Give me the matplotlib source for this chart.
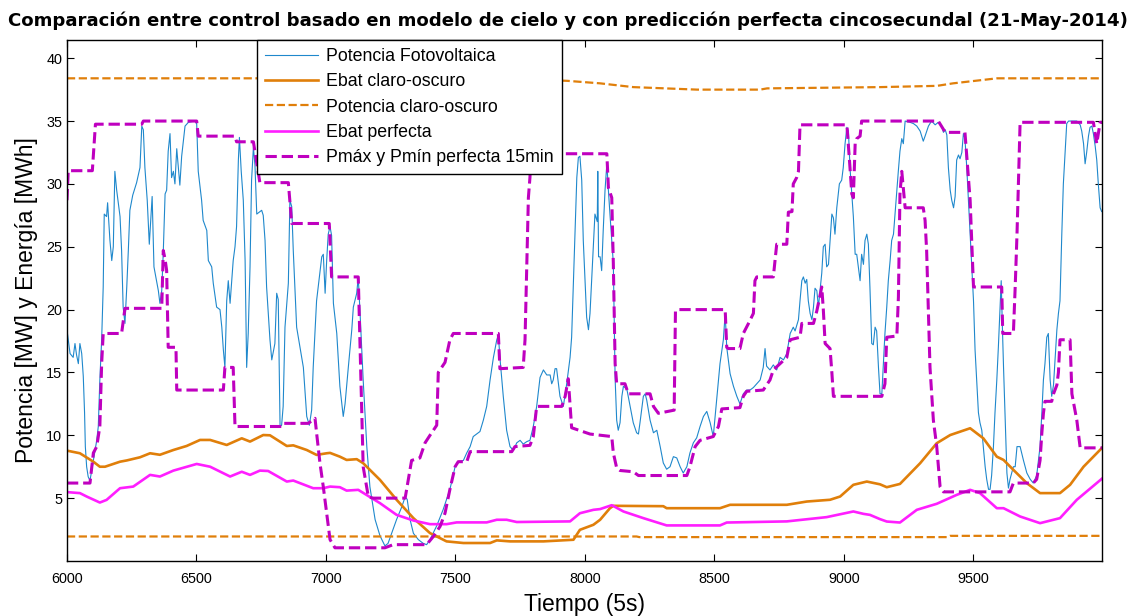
import matplotlib
matplotlib.use('Agg')
import matplotlib.pyplot as plt
import numpy as np

plt.rcParams['font.family'] = ['Liberation Sans', 'DejaVu Sans']

# potencia fotovoltaica (muestras cada 5 s)
pv_points = [
    (6000, 18.4), (6005, 17.6), (6012, 16.5), (6024, 16.2), (6031, 17.3), (6037, 16.4), (6044, 15.7),
    (6050, 17.3), (6057, 16.5), (6063, 14.7), (6068, 11.8), (6071, 9.1), (6076, 7.5), (6082, 6.7),
    (6089, 6.4), (6102, 8.0), (6115, 9.6), (6121, 10.7), (6127, 14.4), (6134, 17.6), (6140, 21.8),
    (6144, 27.6), (6153, 27.4), (6157, 28.5), (6163, 26.5), (6166, 25.5), (6173, 23.9), (6179, 25.0),
    (6185, 31.0), (6192, 29.5), (6205, 27.4), (6211, 24.7), (6217, 20.2), (6224, 18.9), (6231, 21.8),
    (6237, 24.7), (6243, 27.9), (6254, 29.1), (6269, 30.1), (6282, 31.3), (6289, 34.6), (6295, 34.3),
    (6301, 31.3), (6310, 28.7), (6318, 25.2), (6329, 29.0), (6336, 23.4), (6353, 21.5), (6359, 20.5),
    (6366, 21.5), (6372, 24.6), (6379, 29.2), (6385, 29.5), (6391, 32.6), (6398, 34.0), (6404, 30.5),
    (6411, 31.0), (6417, 30.0), (6424, 32.8), (6436, 29.9), (6443, 32.2), (6456, 34.6), (6469, 34.9),
    (6494, 35.0), (6501, 34.8), (6507, 31.0), (6520, 28.7), (6526, 27.1), (6540, 26.3), (6546, 23.9),
    (6559, 23.4), (6565, 22.1), (6578, 20.2), (6591, 20.0), (6598, 18.6), (6604, 16.8), (6610, 15.4),
    (6617, 20.7), (6623, 22.3), (6630, 20.5), (6642, 23.9), (6649, 25.0), (6655, 26.6), (6662, 31.9),
    (6666, 33.7), (6673, 31.0), (6681, 28.7), (6688, 23.9), (6694, 15.4), (6700, 18.1), (6707, 23.4),
    (6713, 30.3), (6720, 32.9), (6726, 31.5), (6733, 27.6), (6752, 27.9), (6758, 27.5), (6765, 25.5),
    (6771, 21.8), (6784, 17.6), (6791, 16.0), (6803, 17.3), (6810, 21.3), (6816, 20.8), (6823, 10.7),
    (6829, 10.8), (6835, 12.3), (6842, 18.6), (6855, 22.1), (6861, 28.7), (6868, 28.2), (6874, 24.7),
    (6887, 18.6), (6900, 17.0), (6913, 15.4), (6926, 11.5), (6936, 10.8), (6945, 12.0), (6951, 15.4),
    (6964, 20.7), (6984, 24.2), (6990, 24.4), (6997, 21.3), (7003, 23.9), (7009, 26.0), (7016, 26.6),
    (7022, 25.9), (7029, 20.5), (7042, 18.1), (7054, 13.9), (7067, 11.5), (7074, 12.5), (7087, 15.5),
    (7100, 18.4), (7106, 20.2), (7119, 21.3), (7125, 22.6), (7132, 19.7), (7144, 14.4), (7158, 9.1),
    (7170, 5.9), (7190, 3.3), (7209, 2.0), (7228, 1.2), (7240, 1.4), (7254, 2.2), (7273, 3.3),
    (7293, 4.3), (7306, 5.1), (7314, 4.9), (7325, 3.3), (7338, 2.2), (7357, 1.7), (7376, 1.4),
    (7389, 1.3), (7402, 1.7), (7428, 2.8), (7453, 4.1), (7479, 5.7), (7499, 7.5), (7511, 7.9),
    (7531, 8.0), (7544, 8.6), (7557, 9.1), (7569, 9.9), (7595, 10.3), (7608, 11.2), (7621, 12.3),
    (7634, 14.4), (7647, 16.2), (7660, 17.6), (7666, 18.0), (7672, 16.2), (7685, 13.1), (7698, 10.4),
    (7711, 9.1), (7724, 8.8), (7737, 9.4), (7750, 9.6), (7762, 9.3), (7776, 9.5), (7788, 9.6),
    (7801, 10.7), (7814, 12.3), (7827, 14.6), (7840, 15.2), (7853, 14.8), (7866, 14.8), (7872, 14.1),
    (7878, 14.4), (7885, 15.3), (7891, 15.3), (7904, 13.1), (7917, 12.3), (7930, 14.1), (7943, 16.2),
    (7949, 17.8), (7956, 22.3), (7962, 26.3), (7969, 30.5), (7975, 32.1), (7981, 32.2), (7988, 30.3),
    (7994, 25.5), (8001, 22.3), (8007, 19.4), (8014, 18.4), (8020, 19.7), (8033, 25.0), (8039, 27.6),
    (8048, 27.0), (8050, 31.0), (8053, 24.2), (8059, 24.2), (8065, 23.1), (8071, 26.3), (8078, 29.5),
    (8085, 31.6), (8091, 29.5), (8097, 27.6), (8110, 23.7), (8114, 18.4), (8117, 14.5), (8123, 11.2),
    (8129, 10.4), (8136, 11.0), (8143, 13.1), (8149, 13.9), (8162, 13.7), (8175, 12.3), (8187, 11.0),
    (8200, 10.2), (8207, 10.1), (8213, 11.0), (8226, 13.1), (8233, 13.3), (8239, 12.8), (8252, 11.2),
    (8265, 10.2), (8278, 10.4), (8291, 9.1), (8303, 7.8), (8316, 7.3), (8329, 7.5), (8342, 8.3),
    (8355, 8.2), (8368, 7.5), (8380, 7.0), (8394, 7.5), (8406, 8.6), (8419, 9.4), (8432, 9.8),
    (8445, 10.7), (8458, 11.5), (8471, 11.9), (8484, 11.0), (8496, 9.9), (8509, 12.8), (8516, 14.4),
    (8522, 15.7), (8535, 17.6), (8542, 19.7), (8548, 17.0), (8554, 16.0), (8561, 14.9), (8574, 13.9),
    (8587, 13.1), (8599, 12.5), (8612, 13.3), (8625, 13.6), (8638, 13.6), (8651, 13.8), (8664, 14.1),
    (8677, 14.4), (8689, 15.4), (8696, 16.9), (8702, 15.5), (8715, 15.2), (8728, 15.6), (8741, 15.2),
    (8754, 16.2), (8767, 16.0), (8780, 16.5), (8793, 18.1), (8805, 18.6), (8812, 18.3), (8825, 19.2),
    (8831, 20.7), (8838, 22.3), (8844, 22.6), (8851, 22.1), (8857, 22.4), (8863, 20.7), (8870, 19.7),
    (8877, 19.2), (8883, 20.2), (8889, 21.7), (8896, 21.5), (8902, 20.2), (8915, 22.9), (8921, 25.0),
    (8928, 25.2), (8934, 23.4), (8941, 23.6), (8947, 25.5), (8954, 27.6), (8960, 27.3), (8966, 26.0),
    (8973, 28.1), (8983, 30.0), (8992, 30.3), (8998, 31.3), (9005, 33.2), (9012, 34.5), (9018, 34.2),
    (9024, 31.3), (9031, 29.2), (9037, 27.4), (9044, 24.4), (9050, 24.4), (9056, 23.4), (9063, 22.3),
    (9069, 24.4), (9076, 23.6), (9082, 25.5), (9089, 26.0), (9095, 25.2), (9101, 21.8), (9108, 17.3),
    (9114, 17.2), (9121, 18.6), (9127, 18.3), (9134, 15.4), (9140, 13.3), (9147, 13.3), (9159, 18.1),
    (9166, 20.2), (9172, 22.3), (9179, 23.9), (9185, 25.5), (9192, 26.0), (9205, 29.5), (9211, 31.1),
    (9217, 32.6), (9224, 33.6), (9230, 33.2), (9237, 35.0), (9256, 34.9), (9269, 34.8), (9282, 34.6),
    (9295, 34.2), (9307, 33.4), (9314, 33.8), (9327, 34.6), (9339, 35.0), (9353, 34.7), (9365, 34.9),
    (9378, 34.6), (9385, 34.1), (9392, 34.3), (9398, 33.9), (9404, 31.3), (9411, 29.5), (9417, 28.7),
    (9424, 28.1), (9430, 29.0), (9436, 31.9), (9443, 32.3), (9449, 32.0), (9456, 32.5), (9462, 34.0),
    (9468, 33.6), (9475, 31.3), (9488, 26.0), (9494, 23.4), (9501, 20.7), (9507, 16.8), (9514, 14.1),
    (9520, 11.8), (9526, 11.0), (9533, 10.4), (9539, 9.1), (9546, 7.5), (9552, 6.5), (9559, 5.7),
    (9565, 5.7), (9571, 6.8), (9578, 9.1), (9584, 11.8), (9591, 14.4), (9597, 17.0), (9604, 20.5),
    (9608, 22.3), (9612, 19.0), (9617, 15.4), (9623, 11.5), (9630, 7.0), (9636, 5.8), (9642, 6.5),
    (9655, 7.5), (9662, 7.5), (9669, 9.1), (9681, 9.1), (9694, 8.0), (9707, 7.0), (9720, 6.5),
    (9732, 6.2), (9745, 6.8), (9758, 9.1), (9765, 11.8), (9771, 14.4), (9777, 15.7), (9784, 17.8),
    (9790, 18.1), (9794, 16.0), (9797, 14.4), (9803, 13.1), (9810, 14.0), (9823, 18.4), (9829, 19.7),
    (9835, 20.7), (9842, 26.0), (9848, 30.0), (9855, 32.6), (9861, 34.8), (9868, 35.0), (9900, 35.0),
    (9913, 34.7), (9919, 34.2), (9926, 33.2), (9932, 31.6), (9938, 32.5), (9945, 33.8), (9951, 34.5),
    (9958, 34.6), (9964, 34.0), (9971, 33.0), (9977, 31.9), (9983, 30.0), (9990, 28.1), (9996, 27.8),
]

# energia de bateria con el control claro-oscuro
ebat_co_points = [
    (6000, 8.78), (6050, 8.57), (6102, 7.9), (6127, 7.5), (6147, 7.5), (6205, 7.9), (6231, 8.0),
    (6282, 8.25), (6321, 8.57), (6359, 8.45), (6411, 8.83), (6462, 9.15), (6514, 9.63), (6553, 9.63),
    (6617, 9.23), (6675, 9.76), (6707, 9.5), (6758, 10.02), (6784, 10.0), (6849, 9.15), (6874, 9.2),
    (6926, 8.83), (6964, 8.44), (7003, 8.57), (7016, 8.6), (7054, 8.3), (7080, 8.04), (7119, 8.1),
    (7144, 7.78), (7209, 6.45), (7273, 4.87), (7338, 3.41), (7402, 2.22), (7466, 1.56), (7531, 1.43),
    (7634, 1.43), (7660, 1.64), (7711, 1.56), (7840, 1.56), (7956, 1.69), (7981, 2.48), (8033, 2.88),
    (8059, 3.28), (8097, 4.2), (8110, 4.39), (8303, 4.36), (8316, 4.2), (8522, 4.2), (8561, 4.47),
    (8780, 4.47), (8857, 4.73), (8947, 4.87), (8986, 5.13), (9037, 6.06), (9089, 6.32), (9140, 6.1),
    (9166, 5.87), (9217, 6.13), (9295, 7.78), (9359, 9.37), (9411, 10.02), (9488, 10.56), (9539, 9.76),
    (9591, 8.3), (9617, 8.04), (9655, 7.25), (9707, 6.19), (9758, 5.4), (9835, 5.4), (9874, 6.06),
    (9926, 7.5), (9996, 8.97),
]

# limites de potencia del control claro-oscuro
pot_co_sup = [
    (6000, 38.4), (7673, 38.4), (7932, 38.2), (8059, 38.0), (8187, 37.7), (8434, 37.5), (8677, 37.5),
    (8704, 37.6), (9140, 37.7), (9360, 37.8), (9422, 38.0), (9592, 38.4), (9997, 38.4),
]
pot_co_inf = [(6000, 1.95), (8200, 1.95), (8210, 1.9), (9400, 1.9), (9410, 2.0), (9997, 2.0)]

# energia de bateria con prediccion perfecta
ebat_pf_points = [
    (6000, 5.48), (6050, 5.4), (6076, 5.13), (6127, 4.65), (6153, 4.86), (6205, 5.79), (6256, 5.92),
    (6321, 6.85), (6359, 6.72), (6411, 7.19), (6501, 7.72), (6553, 7.5), (6630, 6.72), (6675, 7.1),
    (6707, 6.85), (6745, 7.19), (6777, 7.16), (6849, 6.32), (6874, 6.4), (6951, 5.79), (6990, 5.79),
    (7016, 5.92), (7054, 5.87), (7080, 5.6), (7125, 5.66), (7209, 4.6), (7273, 3.67), (7338, 3.22),
    (7402, 2.93), (7466, 2.93), (7505, 3.07), (7621, 3.07), (7660, 3.28), (7698, 3.28), (7737, 3.1),
    (7943, 3.15), (7981, 3.8), (8033, 4.07), (8059, 4.13), (8104, 4.44), (8149, 3.94), (8226, 3.41),
    (8316, 2.83), (8522, 2.83), (8548, 3.06), (8780, 3.15), (8934, 3.49), (9037, 3.94), (9076, 3.75),
    (9101, 3.67), (9140, 3.33), (9166, 3.14), (9217, 3.06), (9282, 4.07), (9359, 4.55), (9436, 5.26),
    (9488, 5.66), (9526, 5.4), (9591, 4.2), (9617, 4.2), (9681, 3.54), (9758, 3.01), (9835, 3.41),
    (9900, 4.87), (9996, 6.53),
]

# Pmax y Pmin con prediccion perfecta a 15 min
pmax_pf = [
    (6000, 28.7), (6005, 31.05), (6098, 31.05), (6110, 34.75), (6289, 34.75), (6295, 35.0), (6501, 35.0),
    (6507, 33.8), (6649, 33.8), (6655, 33.35), (6720, 33.35), (6745, 30.1), (6855, 30.1), (6868, 26.85),
    (7013, 26.85), (7022, 22.6), (7125, 22.6), (7144, 7.5), (7164, 5.1), (7183, 5.0), (7306, 5.0),
    (7331, 8.0), (7363, 8.2), (7383, 9.4), (7402, 10.0), (7428, 10.8), (7434, 15.0), (7460, 15.8),
    (7479, 17.6), (7492, 18.1), (7666, 18.1), (7672, 15.3), (7762, 15.4), (7769, 17.6), (7782, 28.9),
    (7788, 30.5), (7792, 32.4), (8085, 32.4), (8091, 29.7), (8104, 28.9), (8110, 23.7), (8117, 15.7),
    (8123, 14.1), (8155, 14.1), (8168, 13.3), (8252, 13.3), (8265, 12.3), (8284, 11.75), (8345, 12.0),
    (8350, 19.9), (8361, 20.0), (8542, 20.0), (8548, 17.0), (8554, 16.9), (8599, 16.9), (8612, 18.1),
    (8632, 18.9), (8651, 19.7), (8657, 22.3), (8664, 22.6), (8728, 22.6), (8741, 25.2), (8780, 25.2),
    (8786, 27.75), (8800, 27.8), (8805, 30.0), (8818, 30.5), (8825, 31.0), (8831, 34.7), (9012, 34.7),
    (9024, 31.3), (9031, 29.2), (9037, 28.9), (9044, 33.2), (9050, 33.6), (9063, 33.8), (9069, 35.0),
    (9365, 35.0), (9392, 34.1), (9468, 34.1), (9488, 28.7), (9494, 25.5), (9501, 21.8), (9610, 21.8),
    (9614, 18.1), (9655, 18.1), (9662, 21.8), (9669, 26.0), (9681, 34.9), (9964, 34.9), (9977, 33.2),
    (9990, 34.9), (9997, 34.9),
]
pmin_pf = [
    (6000, 6.2), (6089, 6.2), (6102, 8.6), (6115, 9.1), (6127, 10.7), (6134, 15.7), (6140, 18.1),
    (6211, 18.1), (6224, 20.1), (6366, 20.1), (6372, 24.7), (6379, 24.0), (6385, 23.1), (6391, 17.0),
    (6421, 17.0), (6424, 13.6), (6604, 13.6), (6610, 15.4), (6642, 15.4), (6649, 10.7), (6829, 10.7),
    (6835, 10.95), (6932, 10.95), (6958, 11.35), (6964, 10.2), (6977, 7.8), (6990, 5.9), (7003, 3.8),
    (7016, 1.7), (7035, 1.05), (7228, 1.05), (7260, 1.3), (7389, 1.3), (7415, 1.95), (7441, 2.75),
    (7460, 3.8), (7479, 5.7), (7499, 7.5), (7511, 7.9), (7544, 7.9), (7557, 8.7), (7718, 8.7),
    (7730, 9.1), (7788, 9.2), (7801, 9.9), (7814, 12.3), (7911, 12.3), (7924, 13.1), (7936, 14.5),
    (7949, 10.6), (8020, 10.1), (8104, 9.9), (8110, 8.6), (8123, 7.4), (8136, 7.2), (8187, 7.1),
    (8207, 6.8), (8394, 6.8), (8406, 7.5), (8426, 9.1), (8445, 9.6), (8496, 9.9), (8516, 10.7),
    (8529, 12.1), (8599, 12.2), (8612, 13.1), (8625, 13.5), (8689, 13.6), (8715, 14.4), (8728, 15.2),
    (8780, 16.2), (8793, 17.6), (8831, 17.8), (8838, 18.9), (8883, 18.9), (8896, 19.9), (8915, 21.8),
    (8921, 20.0), (8928, 17.3), (8947, 16.9), (8954, 15.0), (8960, 13.1), (9147, 13.1), (9159, 14.1),
    (9166, 17.8), (9205, 17.9), (9211, 21.0), (9217, 29.2), (9224, 31.0), (9237, 28.1), (9307, 28.1),
    (9314, 27.1), (9320, 24.7), (9333, 15.4), (9346, 11.2), (9359, 9.1), (9372, 5.9), (9385, 5.5),
    (9642, 5.5), (9655, 6.2), (9732, 6.2), (9745, 6.5), (9758, 8.0), (9765, 10.2), (9771, 11.75),
    (9777, 12.7), (9803, 12.7), (9810, 13.3), (9823, 14.0), (9829, 15.0), (9835, 17.6), (9874, 17.6),
    (9881, 13.3), (9900, 11.2), (9913, 9.0), (9997, 9.0),
]

etiquetas = ['Potencia Fotovoltaica', 'Ebat claro-oscuro', 'Potencia claro-oscuro',
             'Ebat perfecta', 'Pmáx y Pmín perfecta 15min']
xticks = [6000, 6500, 7000, 7500, 8000, 8500, 9000, 9500]
yticks = [5, 10, 15, 20, 25, 30, 35, 40]

c_pv = '#1f88cc'
c_nar = '#e07f0a'
c_mag = '#ff1eff'
c_magd = '#bf00bf'


def xy(puntos):
    a = np.array(puntos, dtype=float)
    return a[:, 0], a[:, 1]


fig = plt.figure(figsize=(11.31, 6.16), dpi=100)
ax = fig.add_axes([0.0592, 0.0893, 0.9151, 0.8458])

h1, = ax.plot(*xy(pv_points), color=c_pv, lw=0.8)
h2, = ax.plot(*xy(ebat_co_points), color=c_nar, lw=1.9)
h3, = ax.plot(*xy(pot_co_sup), color=c_nar, lw=1.6, ls='--')
ax.plot(*xy(pot_co_inf), color=c_nar, lw=1.6, ls='--')
h4, = ax.plot(*xy(ebat_pf_points), color=c_mag, lw=1.9)
h5, = ax.plot(*xy(pmax_pf), color=c_magd, lw=2.2, ls='--')
ax.plot(*xy(pmin_pf), color=c_magd, lw=2.2, ls='--')

ax.set_xlim(6000, 9997)
ax.set_ylim(0, 41.45)
ax.set_xticks(xticks)
ax.set_yticks(yticks)
ax.tick_params(direction='in', top=True, right=True, length=5, width=0.8, labelsize=10.4)
ax.tick_params(axis='x', pad=8)
for s in ax.spines.values():
    s.set_linewidth(1.0)

ax.set_xlabel('Tiempo (5s)', fontsize=16.5, labelpad=5)
ax.set_ylabel('Potencia [MW] y Energía [MWh]', fontsize=16.5, labelpad=6)
fig.text(0.502, 0.967, 'Comparación entre control basado en modelo de cielo y con predicción perfecta '
         'cincosecundal (21-May-2014)', ha='center', va='center', fontsize=13.1, fontweight='bold',
         family='DejaVu Sans')

leg = ax.legend([h1, h2, h3, h4, h5], etiquetas, loc='upper left', bbox_to_anchor=(0.1836, 1.0),
                borderaxespad=0, fontsize=12.8, fancybox=False, edgecolor='black', framealpha=1,
                handlelength=3.0, handletextpad=0.45, borderpad=0.45, labelspacing=0.47)
leg.get_frame().set_linewidth(1.0)

fig.savefig('out.png', dpi=100)
